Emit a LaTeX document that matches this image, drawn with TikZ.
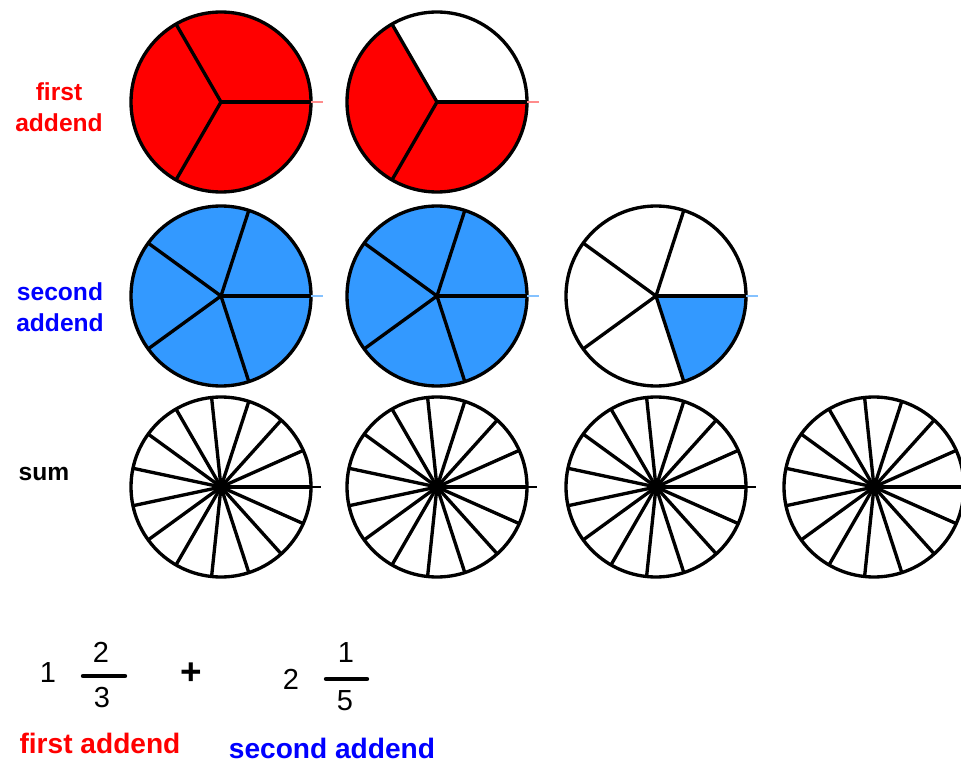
\documentclass[tikz,border=0pt]{standalone}
\usepackage{fontspec}
\setmainfont{Liberation Sans}
\usetikzlibrary{calc}
\definecolor{wedgeblue}{RGB}{51,153,255}
\definecolor{textblue}{RGB}{0,0,255}

\begin{document}
\begin{tikzpicture}[x=0.02cm, y=0.02cm,
  rim/.style={line width=1.9pt},
  spoke/.style={line width=1.9pt},
  stub/.style={line width=0.6pt},
  lbl/.style={inner sep=0pt, align=center, font=\fontsize{14}{17.5}\selectfont\bfseries},
  big/.style={inner sep=0pt, font=\fontsize{16.5}{19}\selectfont},
  fracbar/.style={line width=2.5pt, line cap=round}]
\useasboundingbox (0,0) rectangle (961,762);
% first addend: thirds
\fill[red] (221,660) circle (90); \fill[red] (437,660) -- ++(120:90) arc (120:360:90) -- cycle;
\foreach \cx in {221,437} {
  \foreach \a in {0,120,240} \draw[spoke] (\cx,660) -- ++(\a:90);
  \draw[rim] (\cx,660) circle (90); \draw[stub, red!45] (\cx+90,660) -- ++(12,0);
}
% second addend: fifths
\fill[wedgeblue] (221,466) circle (90); \fill[wedgeblue] (437,466) circle (90);
\fill[wedgeblue] (656,466) -- ++(-72:90) arc (-72:0:90) -- cycle;
\foreach \cx in {221,437,656} {
  \foreach \a in {0,72,...,288} \draw[spoke] (\cx,466) -- ++(\a:90);
  \draw[rim] (\cx,466) circle (90); \draw[stub, wedgeblue!60] (\cx+90,466) -- ++(12,0);
}
% sum: fifteenths
\foreach \cx in {221,437,656,874} {
  \foreach \a in {0,24,...,336} \draw[spoke] (\cx,275) -- ++(\a:90);
  \fill (\cx,275) circle (4);
  \draw[rim] (\cx,275) circle (90); \draw[stub] (\cx+90,275) -- ++(10,0);
}
\node[lbl, text=red] (rowfirst) at (59,655) {first\\addend};
\node[lbl, text=textblue] (rowsecond) at (60,455) {second\\addend};
\node[lbl] (rowsum) at (44,288) {sum};
% the sum written out
\node[big] (wholeA) at (48,89) {1};
\node[big] (numA) at (101,110) {2}; \draw[fracbar] (83,86) -- (125,86); \node[big] (denA) at (102,64) {3};
\node[big, font=\fontsize{21}{24}\selectfont\bfseries] (plus) at (191,88) {+};
\node[big] (wholeB) at (291,83) {2};
\node[big] (numB) at (346,109) {1}; \draw[fracbar] (326,83) -- (367,83); \node[big] (denB) at (345,61) {5};
\node[big, font=\fontsize{16}{19}\selectfont\bfseries, text=red] (capfirst) at (100,19) {first addend};
\node[big, font=\fontsize{16}{19}\selectfont\bfseries, text=textblue] (capsecond) at (332,14) {second addend};
\end{tikzpicture}
\end{document}
